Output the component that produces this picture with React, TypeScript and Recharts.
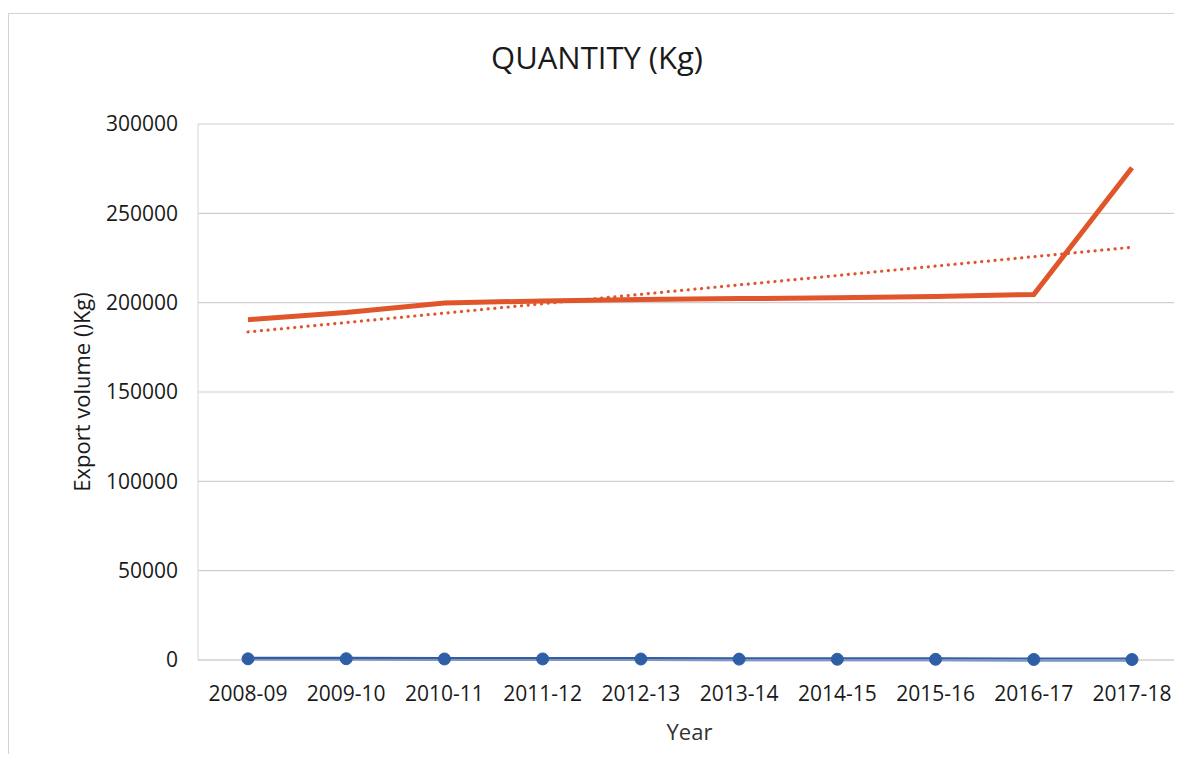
import { CartesianGrid, Label, Line, LineChart, XAxis, YAxis } from "recharts";

const years = [
  "2008-09", "2009-10", "2010-11", "2011-12", "2012-13",
  "2013-14", "2014-15", "2015-16", "2016-17", "2017-18",
];
const quantity = [190500, 194500, 199800, 201000, 201800, 202300, 202700, 203400, 204600, 275500];
const value = [650, 720, 580, 610, 540, 490, 430, 380, 300, 260];
// linear trend of quantity, read at its two ends
const trend = [183600, null, null, null, null, null, null, null, null, 231000];
const yTicks = [0, 50000, 100000, 150000, 200000, 250000, 300000];

const data = years.map((year, i) => ({
  year,
  quantity: quantity[i],
  value: value[i],
  trend: trend[i],
}));

const font = "'Open Sans', sans-serif";
const grid = "#d6ccd0";

export default function App() {
  return (
    <div
      style={{
        position: "relative",
        width: 1182,
        height: 762,
        margin: -8,
        overflow: "hidden",
        fontFamily: font,
        background: "#fff",
      }}
    >
      <div
        style={{
          position: "absolute",
          left: 8,
          top: 13,
          right: 2,
          bottom: -4,
          border: "1px solid #d3d3d3",
        }}
      />
      <div
        style={{
          position: "absolute",
          left: 0,
          width: 1182,
          top: 36,
          textAlign: "center",
          fontSize: 31,
          color: "#1a1a1a",
          paddingLeft: 12,
          boxSizing: "border-box",
        }}
      >
        QUANTITY (Kg)
      </div>
      <LineChart
        width={1182}
        height={762}
        data={data}
        margin={{ top: 124, right: 1, bottom: 0, left: 0 }}
        style={{ position: "absolute", left: 0, top: 0 }}
      >
        <CartesianGrid vertical={false} stroke={grid} strokeWidth={1.2} />
        <XAxis
          dataKey="year"
          height={102}
          padding={{ left: 50, right: 49 }}
          tickLine={false}
          tickSize={0}
          tickMargin={26}
          axisLine={{ stroke: grid }}
          tick={{ fill: "#1a1a1a", fontSize: 21, fontFamily: font }}
          interval={0}
        >
          <Label value="Year" position="insideBottom" offset={22} fill="#333" fontSize={22} fontFamily={font} />
        </XAxis>
        <YAxis
          width={198}
          domain={[0, 300000]}
          ticks={yTicks}
          tickLine={false}
          tickSize={0}
          tickMargin={20}
          axisLine={{ stroke: "#d6d6d6" }}
          tick={{ fill: "#1a1a1a", fontSize: 21, fontFamily: font }}
        >
          <Label
            value="Export volume ()Kg)"
            angle={-90}
            position="insideLeft"
            offset={82}
            fill="#1a1a1a"
            fontSize={22}
            fontFamily={font}
            style={{ textAnchor: "middle" }}
          />
        </YAxis>
        <Line
          dataKey="value"
          stroke="#2f5ea6"
          strokeWidth={4}
          dot={{ r: 6, fill: "#2f5ea6", stroke: "#2f5ea6", strokeWidth: 1 }}
          isAnimationActive={false}
        />
        <Line
          dataKey="trend"
          stroke="#e0552e"
          strokeWidth={3.2}
          strokeDasharray="0.1 6.6"
          strokeLinecap="round"
          connectNulls
          dot={false}
          isAnimationActive={false}
        />
        <Line
          dataKey="quantity"
          stroke="#e05529"
          strokeWidth={5}
          dot={false}
          isAnimationActive={false}
        />
      </LineChart>
    </div>
  );
}
